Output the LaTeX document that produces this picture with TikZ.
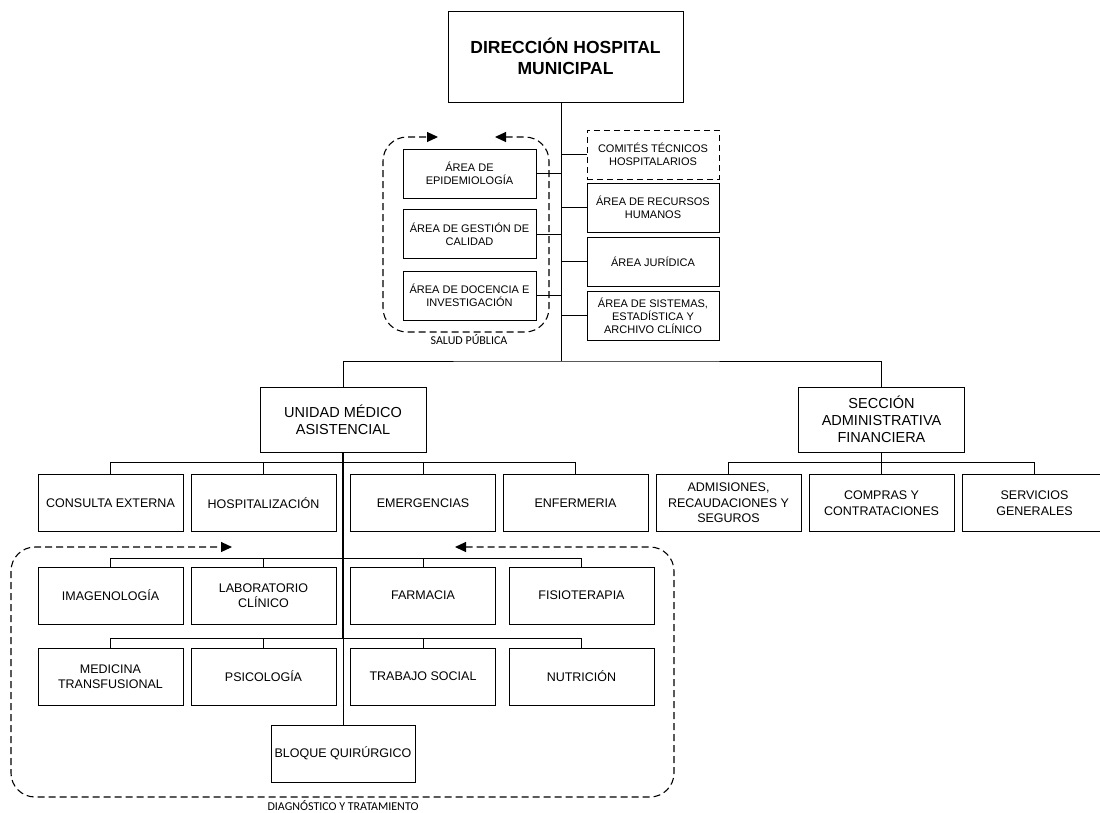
\documentclass[tikz,border=0pt]{standalone}
\usepackage{fontspec}
\setmainfont{Liberation Sans}
\newfontfamily\lblfont{Carlito}
\usepackage{tikz}
\usetikzlibrary{arrows.meta,positioning}
\tikzset{orgbox/.style={draw,rectangle,line width=0.8pt,align=center,inner sep=2pt},
         topbox/.style={orgbox,minimum width=235pt,minimum height=91pt,font=\fontsize{17.5}{21}\selectfont\bfseries},
         sidebox/.style={orgbox,minimum width=133pt,minimum height=49pt,font=\fontsize{11}{13.2}\selectfont},
         unitbox/.style={orgbox,minimum width=166pt,minimum height=65pt,font=\fontsize{14.5}{17}\selectfont},
         leafbox/.style={orgbox,minimum width=145pt,minimum height=57pt,font=\fontsize{12.5}{15.5}\selectfont},
         conn/.style={line width=0.7pt},
         trunkline/.style={line width=1.6pt},
         grpline/.style={line width=1.1pt,dash pattern=on 7pt off 4pt,rounded corners=24pt},
         grptip/.style={{Triangle[length=11pt,width=10pt]}-{Triangle[length=11pt,width=10pt]}},
         grplabel/.style={font=\lblfont\fontsize{12}{14}\selectfont}}

\begin{document}
\begin{tikzpicture}[x=1pt,y=-1pt]
        \useasboundingbox (0,0) rectangle (1100,812);

        \node[topbox] (dir) at (565.5,56.5) {DIRECCIÓN HOSPITAL\\MUNICIPAL};

        \node[sidebox] (epi) at (469.5,173.5) {ÁREA DE\\EPIDEMIOLOGÍA};
        \node[sidebox] (cal) at (469.5,234) {ÁREA DE GESTIÓN DE\\CALIDAD};
        \node[sidebox] (doc) at (469.5,295.5) {ÁREA DE DOCENCIA E\\INVESTIGACIÓN};

        \node[sidebox,dash pattern=on 6pt off 4pt,minimum width=132pt] (com) at (653,154.5) {COMITÉS TÉCNICOS\\HOSPITALARIOS};
        \node[sidebox,minimum width=132pt] (rrhh) at (653,207.5) {ÁREA DE RECURSOS\\HUMANOS};
        \node[sidebox,minimum width=132pt] (jur) at (653,261.5) {ÁREA JURÍDICA};
        \node[sidebox,minimum width=132pt] (sis) at (653,315.5) {ÁREA DE SISTEMAS,\\ESTADÍSTICA Y\\ARCHIVO CLÍNICO};

        \node[unitbox] (uma) at (343,419.5) {UNIDAD MÉDICO\\ASISTENCIAL};
        \node[unitbox] (sec) at (881.5,419.5) {SECCIÓN\\ADMINISTRATIVA\\FINANCIERA};

        \node[leafbox] (ce) at (110.5,503) {CONSULTA EXTERNA};
        \node[leafbox] (hosp) at (263.5,503) {HOSPITALIZACIÓN};
        \node[leafbox] (emg) at (423,503) {EMERGENCIAS};
        \node[leafbox] (enf) at (575.5,503) {ENFERMERIA};

        \node[leafbox] (adm) at (728.5,503) {ADMISIONES,\\RECAUDACIONES Y\\SEGUROS};
        \node[leafbox] (comp) at (881.5,503) {COMPRAS Y\\CONTRATACIONES};
        \node[leafbox] (serv) at (1034.5,503) {SERVICIOS\\GENERALES};

        \node[leafbox] (img) at (110.5,595.5) {IMAGENOLOGÍA};
        \node[leafbox] (lab) at (263.5,595.5) {LABORATORIO\\CLÍNICO};
        \node[leafbox] (farm) at (423,595.5) {FARMACIA};
        \node[leafbox] (fisio) at (581.5,595.5) {FISIOTERAPIA};

        \node[leafbox] (med) at (110.5,676.5) {MEDICINA\\TRANSFUSIONAL};
        \node[leafbox] (psi) at (263.5,676.5) {PSICOLOGÍA};
        \node[leafbox] (ts) at (423,676.5) {TRABAJO SOCIAL};
        \node[leafbox] (nut) at (581.5,676.5) {NUTRICIÓN};

        \node[leafbox,minimum width=144pt] (bq) at (343,753.5) {BLOQUE QUIRÚRGICO};

        \node[grplabel] (splbl) at (469,340) {SALUD PÚBLICA};
        \node[grplabel] (dtlbl) at (343,806) {DIAGNÓSTICO Y TRATAMIENTO};

        \coordinate (trunk) at (561,361);
        \coordinate (umabus) at (343,462);
        \coordinate (secbus) at (881.5,462);
        \coordinate (row1) at (343,558);
        \coordinate (row2) at (343,638);

        \draw[conn,line width=1pt] (dir.south -| trunk) -- (trunk);
        \draw[conn] (epi.east) -- (epi.east -| trunk);
        \draw[conn] (cal.east) -- (cal.east -| trunk);
        \draw[conn] (doc.east) -- (doc.east -| trunk);
        \draw[conn] (com.west) -- (com.west -| trunk);
        \draw[conn] (rrhh.west) -- (rrhh.west -| trunk);
        \draw[conn] (jur.west) -- (jur.west -| trunk);
        \draw[conn] (sis.west) -- (sis.west -| trunk);
        \draw[conn] (uma.north) |- (trunk) -| (sec.north);

        \draw[conn] (ce.north) |- (umabus);
        \draw[conn] (hosp.north) |- (umabus);
        \draw[conn] (emg.north) |- (umabus);
        \draw[conn] (enf.north) |- (umabus);
        \draw[conn] (sec.south) -- (secbus);
        \draw[conn] (adm.north) |- (secbus);
        \draw[conn] (comp.north) -- (secbus);
        \draw[conn] (serv.north) |- (secbus);

        \draw[conn] (img.north) |- (row1);
        \draw[conn] (lab.north) |- (row1);
        \draw[conn] (farm.north) |- (row1);
        \draw[conn] (fisio.north) |- (row1);
        \draw[conn] (med.north) |- (row2);
        \draw[conn] (psi.north) |- (row2);
        \draw[conn] (ts.north) |- (row2);
        \draw[conn] (nut.north) |- (row2);
        \draw[trunkline] (uma.south) -- (row2);
        \draw[conn] (row2) -- (bq.north);

        \draw[grpline,grptip] (495,137) -- (549,137) -- (549,332) -- (383,332) -- (383,137) -- (438,137);
        \draw[grpline,grptip] (455,547) -- (674,547) -- (674,797) -- (11,797) -- (11,547) -- (232,547);
    \end{tikzpicture}
\end{document}
